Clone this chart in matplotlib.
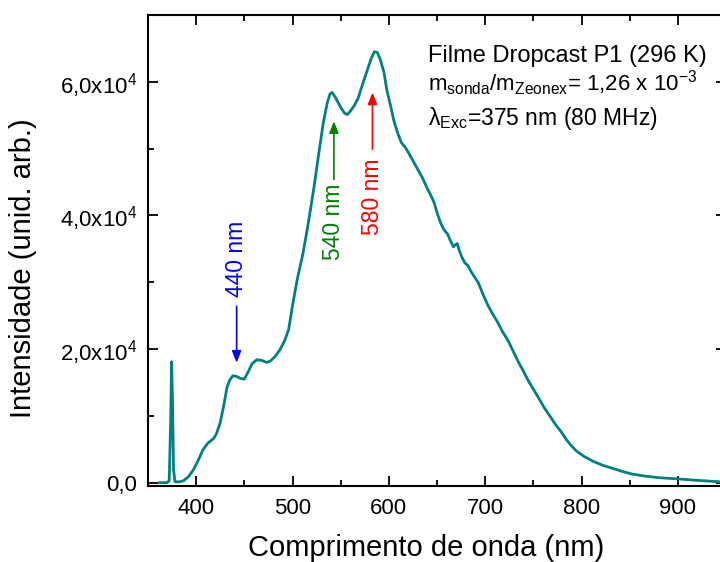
import matplotlib
matplotlib.use("Agg")
import matplotlib.pyplot as plt
from matplotlib.ticker import MultipleLocator, FuncFormatter

plt.rcParams['font.family'] = ['Liberation Sans', 'DejaVu Sans']
plt.rcParams['mathtext.fontset'] = 'custom'
plt.rcParams['mathtext.rm'] = 'Liberation Sans'
plt.rcParams['mathtext.it'] = 'Liberation Sans:italic'
plt.rcParams['mathtext.bf'] = 'Liberation Sans:bold'

# emission spectrum
wavelength = [362, 370, 372, 373.5, 374.5, 375.5, 376.5, 378, 382, 387, 392, 397,
              402, 407, 412, 418, 421, 425, 429, 432, 435, 438, 442, 446, 450,
              454, 458, 463, 468, 473, 477, 482, 487, 492, 496, 500, 505, 511,
              516, 522, 527, 532, 536, 539, 541, 544, 547, 550, 554, 557, 560,
              564, 568, 572, 578, 582, 585, 588, 591, 595, 598, 602, 605, 609,
              613, 617, 620, 625, 630, 635, 640, 644, 647, 651, 654, 657, 661,
              664, 667, 669, 671, 673, 676, 679, 682, 685, 688, 693, 698, 703,
              708, 713, 718, 724, 729, 734, 740, 745, 750, 755, 761, 768, 773,
              779, 784, 789, 795, 803, 812, 822, 831, 842, 852, 865, 880, 901,
              920, 946]
intensity = [0, 0, 300, 9000, 18100, 12000, 2000, 150, 100, 300, 900, 1900,
             3300, 4900, 5900, 6600, 7300, 9000, 11800, 14300, 15400, 16000,
             15900, 15600, 15500, 16600, 17800, 18400, 18300, 18000, 18200,
             18900, 19900, 21300, 22900, 26500, 30500, 34400, 38500, 43900,
             49000, 53900, 56800, 58200, 58400, 57800, 57000, 56200, 55300,
             55100, 55600, 56400, 57500, 59300, 61900, 63600, 64500, 64400,
             63400, 61400, 58700, 56300, 54300, 52400, 50900, 50200, 49500,
             48200, 46900, 45600, 44000, 42900, 41900, 40000, 38800, 37900,
             37200, 36200, 35300, 35600, 35800, 34800, 33700, 32900, 32500,
             31700, 31000, 29900, 28100, 26500, 25200, 24000, 22600, 21200,
             19700, 18200, 16600, 15200, 14000, 12800, 11300, 9800, 8700, 7600,
             6500, 5600, 4700, 3900, 3200, 2600, 2200, 1700, 1300, 1000, 750,
             550, 350, 100]

# peak markers: label, x position, arrow tail / head, label centre, colour
peak_labels = ['440 nm', '540 nm', '580 nm']
peak_x = [442, 543, 583]
arrow_tail = [26400, 45400, 49900]
arrow_head = [17950, 54100, 58400]
label_y = [33500, 39000, 42800]
peak_colors = ['#0000ff', '#008000', '#ff0000']

fig = plt.figure(figsize=(7.2, 5.62), dpi=100)
ax = fig.add_axes([148 / 720, 76 / 562, 578 / 720, 471 / 562])

ax.plot(wavelength, intensity, color='#008080', lw=2)

for lab, x, y0, y1, ly, c in zip(peak_labels, peak_x, arrow_tail, arrow_head,
                                 label_y, peak_colors):
    ax.annotate('', xy=(x, y1), xytext=(x, y0),
                arrowprops=dict(arrowstyle='-|>,head_length=0.5,head_width=0.2',
                                color=c, lw=1.2, mutation_scale=14,
                                shrinkA=0, shrinkB=0))
    ax.text(x, ly, lab, color=c, rotation=90, ha='center', va='center',
            fontsize=16.5)

ax.text(641, 63000, 'Filme Dropcast P1 (296 K)', fontsize=17, va='baseline')
ax.text(641, 58700,
        r'm$_{\mathrm{sonda}}$/m$_{\mathrm{Zeonex}}$= 1,26 x 10$^{\mathrm{-3}}$',
        fontsize=16, va='baseline')
ax.text(641, 53500, 'λ$_{\\mathrm{Exc}}$=375 nm (80 MHz)',
        fontsize=16.5, va='baseline')

ax.set_xlim(350, 950)
ax.set_ylim(-500, 70000)
ax.xaxis.set_major_locator(MultipleLocator(100))
ax.xaxis.set_minor_locator(MultipleLocator(50))
ax.yaxis.set_major_locator(MultipleLocator(20000))
ax.yaxis.set_minor_locator(MultipleLocator(10000))


def fmt_y(v, pos):
    if v == 0:
        return '0,0'
    return r'%d,0x10$^{\mathrm{4}}$' % round(v / 10000)


ax.yaxis.set_major_formatter(FuncFormatter(fmt_y))
ax.tick_params(which='both', direction='in', top=True, right=True,
               labelsize=16, width=1.3)
ax.tick_params(which='major', length=7)
ax.tick_params(axis='x', which='major', pad=9)
ax.tick_params(axis='y', which='major', pad=8)
ax.tick_params(which='minor', length=4)
for s in ax.spines.values():
    s.set_linewidth(1.5)

ax.set_xlabel('Comprimento de onda (nm)', fontsize=21)
ax.set_ylabel('Intensidade (unid. arb.)', fontsize=21)
ax.xaxis.set_label_coords(0.482, -0.132)
ax.yaxis.set_label_coords(-0.216, 0.463)
ax.xaxis.label.set_va('center')
ax.yaxis.label.set_va('center')

fig.savefig('out.png', dpi=100)
